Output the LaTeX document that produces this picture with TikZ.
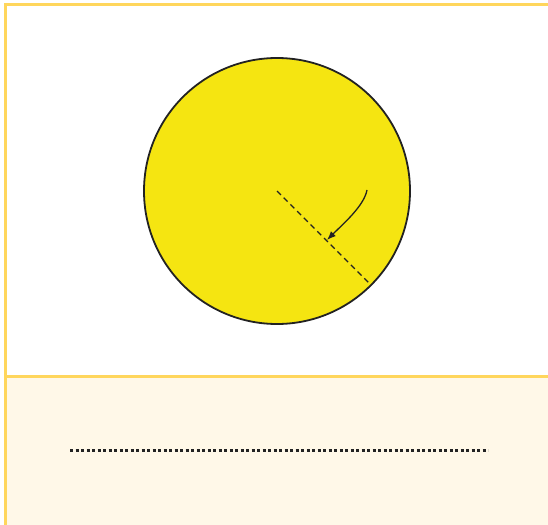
\documentclass[tikz,border=0pt]{standalone}
\usepackage{tikz}
\usetikzlibrary{arrows.meta,calc}
\definecolor{frame}{HTML}{FFD65C}
\definecolor{sun}{HTML}{F5E511}
\definecolor{answer}{HTML}{FFF8E8}
\definecolor{ink}{HTML}{222222}
\tikzset{
  panel/.style={draw=frame, line width=3pt},
  radius line/.style={ink, dash pattern=on 5.5pt off 4pt, line width=1.4pt},
  pointer/.style={-{Latex[length=9pt,width=7pt]}, ink, line width=1.3pt},
  blank/.style={ink, line width=3pt, dash pattern=on 3pt off 2.5pt},
}

\begin{document}
\begin{tikzpicture}[x=1pt, y=-1pt]
    \useasboundingbox (0,0) rectangle (548,524);
    % answer panel
    \fill[answer] (5,376) rectangle (552,528);
    \draw[panel] (552,5) -- (5,5) -- (5,528);
    \draw[panel] (5,376) -- (552,376);

    % the circle and its radius
    \coordinate (centre) at (277,191);
    \draw[ink, fill=sun, line width=1.8pt] (centre) circle[radius=133];
    \coordinate (rim) at ($(centre)+(45:133)$);
    \draw[radius line] (centre) -- (rim);
    \coordinate (tail) at (367,190);
    \coordinate (tip) at (327,240);
    \draw[pointer] (tail) .. controls +(-3,16) and +(16,-16) .. (tip);

    % fill-in line
    \coordinate (blank start) at (70,450);
    \coordinate (blank end) at (488,450);
    \draw[blank] (blank start) -- (blank end);
\end{tikzpicture}
\end{document}
